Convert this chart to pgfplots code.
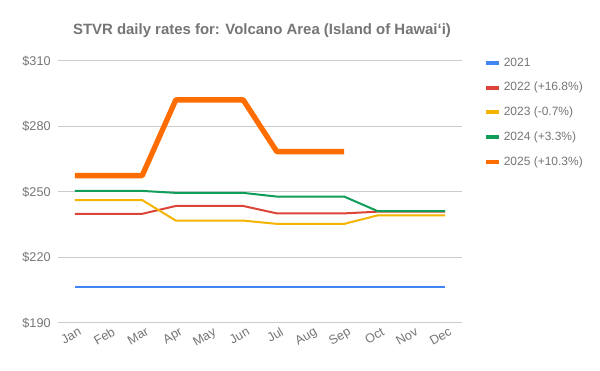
\documentclass[border=0pt]{standalone}
\usepackage{fontspec}
\setmainfont{Liberation Sans}
\usepackage{pgfplots}
\pgfplotsset{compat=1.18}
\definecolor{c21}{HTML}{4285F4}
\definecolor{c22}{HTML}{DB4437}
\definecolor{c23}{HTML}{F4B400}
\definecolor{c24}{HTML}{0F9D58}
\definecolor{c25}{HTML}{FF6D00}
\definecolor{txt}{HTML}{757575}
\definecolor{gridc}{HTML}{CCCCCC}
\begin{document}
\begin{tikzpicture}
\useasboundingbox (0,0) rectangle (450pt,278.25pt);
\node[font=\bfseries\fontsize{11.2}{13}\selectfont, text=txt] at (196.5pt,255pt) {STVR daily rates for: Volcano Area (Island of Hawai‘i)};
\begin{axis}[
  at={(43.5pt,36pt)}, anchor=south west,
  scale only axis, width=303pt, height=196.5pt,
  xmin=-0.5, xmax=11.5, ymin=190, ymax=310,
  xtick={0,...,11},
  xticklabels={Jan,Feb,Mar,Apr,May,Jun,Jul,Aug,Sep,Oct,Nov,Dec},
  xticklabel style={rotate=30, anchor=north east, font=\fontsize{9.5}{11}\selectfont, text=txt, xshift=4pt},
  ytick={190,220,250,280,310},
  yticklabels={\$190,\$220,\$250,\$280,\$310},
  yticklabel style={font=\fontsize{9.5}{11}\selectfont, text=txt, xshift=-2pt},
  ymajorgrids, grid style={gridc, line width=0.75pt},
  axis line style={draw=none}, tick style={draw=none},
  legend style={at={(1.045,1.034)}, anchor=north west, draw=none, fill=none,
    font=\fontsize{9}{11}\selectfont, text=txt, row sep=6.6pt},
  legend cell align=left,
  legend image code/.code={\draw[#1, line width=3pt] (0pt,0pt) -- (9.5pt,0pt);},
  every axis plot/.append style={line join=round},
]
\addplot[c21, line width=1.5pt] coordinates {(0,206.5)(1,206.5)(2,206.5)(3,206.5)(4,206.5)(5,206.5)(6,206.5)(7,206.5)(8,206.5)(9,206.5)(10,206.5)(11,206.5)};
\addlegendentry{2021}
\addplot[c22, line width=1.5pt] coordinates {(0,240)(1,240)(2,240)(3,243.6)(4,243.6)(5,243.6)(6,240.2)(7,240.2)(8,240.2)(9,241)(10,241)(11,241)};
\addlegendentry{2022 (+16.8\%)}
\addplot[c23, line width=1.5pt] coordinates {(0,246.3)(1,246.3)(2,246.3)(3,236.9)(4,236.9)(5,236.9)(6,235.4)(7,235.4)(8,235.4)(9,239.3)(10,239.3)(11,239.3)};
\addlegendentry{2023 (-0.7\%)}
\addplot[c24, line width=1.5pt] coordinates {(0,250.5)(1,250.5)(2,250.5)(3,249.6)(4,249.6)(5,249.6)(6,247.9)(7,247.9)(8,247.9)(9,241.2)(10,241.2)(11,241.2)};
\addlegendentry{2024 (+3.3\%)}
\addplot[c25, line width=4pt] coordinates {(0,257.5)(1,257.5)(2,257.5)(3,292.2)(4,292.2)(5,292.2)(6,268.5)(7,268.5)(8,268.5)};
\addlegendentry{2025 (+10.3\%)}
\end{axis}
\end{tikzpicture}
\end{document}
